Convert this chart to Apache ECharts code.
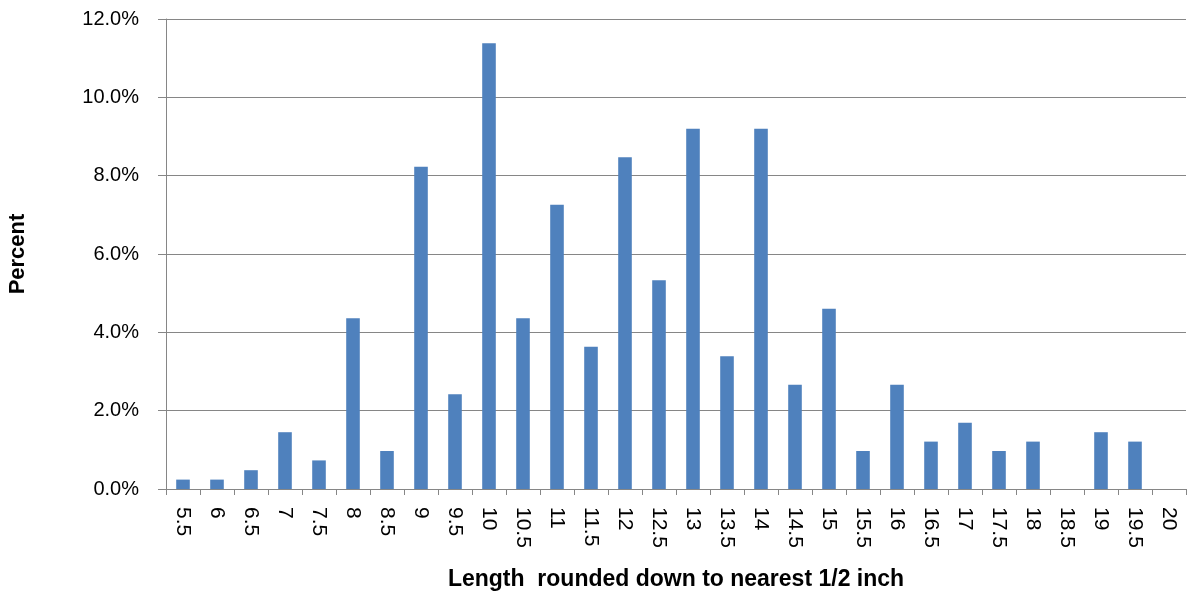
<!DOCTYPE html>
<html>
<head>
<meta charset="utf-8">
<script src="https://cdn.jsdelivr.net/npm/echarts@6/dist/echarts.min.js"></script>
<style>html,body{margin:0;padding:0;background:#fff}#chart{width:1191px;height:597px}</style>
</head>
<body>
<div id="chart"></div>
<script>
const categories = ['5.5','6','6.5','7','7.5','8','8.5','9','9.5','10','10.5','11','11.5','12','12.5','13','13.5','14','14.5','15','15.5','16','16.5','17','17.5','18','18.5','19','19.5','20'];
const percentValues = [0.24,0.24,0.48,1.45,0.73,4.36,0.97,8.23,2.42,11.38,4.36,7.26,3.63,8.47,5.33,9.20,3.39,9.20,2.66,4.60,0.97,2.66,1.21,1.69,0.97,1.21,0,1.45,1.21,0];
const yTicks = [0,2,4,6,8,10,12];

const font = '"Liberation Sans", Arial, sans-serif';
const chart = echarts.init(document.getElementById('chart'));
chart.setOption({
  animation: false,
  grid: {left: 166, right: 5, top: 19, bottom: 108, containLabel: false, outerBoundsMode: 'none'},
  xAxis: {
    type: 'category',
    data: categories,
    name: 'Length  rounded down to nearest 1/2 inch',
    nameLocation: 'middle',
    nameGap: 79,
    nameMoveOverlap: false,
    nameTextStyle: {fontFamily: font, fontSize: 23, fontWeight: 'bold', color: '#000'},
    axisLine: {lineStyle: {color: '#868686', width: 1}},
    axisTick: {show: true, length: 6, lineStyle: {color: '#868686'}},
    axisLabel: {rotate: -90, fontFamily: font, fontSize: 21, color: '#000', margin: 18, interval: 0},
    splitLine: {show: false}
  },
  yAxis: {
    type: 'value',
    min: 0, max: 12, interval: 2,
    name: 'Percent',
    nameLocation: 'middle',
    nameGap: 137,
    nameMoveOverlap: false,
    nameRotate: 90,
    nameTextStyle: {fontFamily: font, fontSize: 22, fontWeight: 'bold', color: '#000'},
    axisLine: {show: true, lineStyle: {color: '#868686', width: 1}},
    axisTick: {show: true, length: 8, lineStyle: {color: '#868686'}},
    axisLabel: {fontFamily: font, fontSize: 20, color: '#000', margin: 27,
      formatter: v => yTicks.includes(v) ? v.toFixed(1) + '%' : ''},
    splitLine: {show: true, lineStyle: {color: '#868686', width: 1}}
  },
  series: [{
    type: 'bar',
    data: percentValues,
    barWidth: '40%',
    itemStyle: {color: '#4F81BD'}
  }]
});
</script>
</body>
</html>
